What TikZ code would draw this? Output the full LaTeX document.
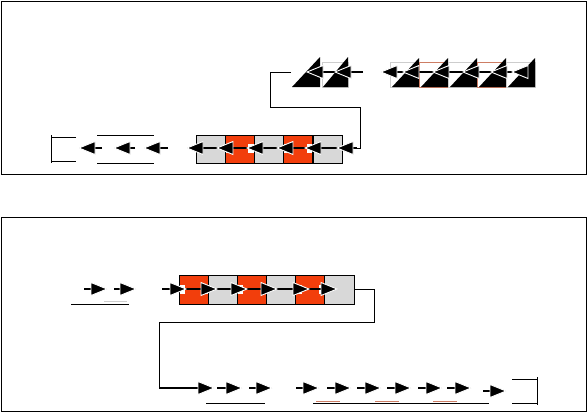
\documentclass[tikz,border=0pt]{standalone}
\usetikzlibrary{calc}
\definecolor{cellred}{RGB}{242,62,12}
\definecolor{cellgrey}{RGB}{216,216,216}
\definecolor{framegrey}{RGB}{205,205,205}
\definecolor{salmonline}{RGB}{205,125,100}
\tikzset{
  headstyle/.style={fill=black,draw=white,line width=0.9pt,line join=miter},
  lhead/.pic={\filldraw[headstyle] (0,0) -- (16,-6.5) -- (16,6.5) -- cycle;},
  rhead/.pic={\filldraw[headstyle] (0,0) -- (-16,-6.5) -- (-16,6.5) -- cycle;},
  mainline/.style={line width=1.1pt},
  thin/.style={line width=0.8pt},
  panel/.style={line width=1pt},
  greycell/.style={draw=black,fill=cellgrey,line width=0.7pt},
  whitecell/.style={line width=0.8pt},
}
% arrow pointing left: start x, tip x, y
\newcommand\LArrow[3]{\draw[mainline] (#1,#3) -- ({#2+8},#3); \pic at (#2,#3) {lhead};}
\newcommand\RArrow[4][1.1pt]{\draw[line width=#1] (#2,#4) -- ({#3-8},#4); \pic at (#3,#4) {rhead};}
\newcommand\RedCell[4]{% x0 y0 x1 y1
  \fill[cellred] (#1,#2) rectangle (#3,#4);
  \fill[white] (#1,{(#2+#4)/2-5}) rectangle ({#1+6},{(#2+#4)/2+4});
  \fill[white] ({#3-6},{(#2+#4)/2-5}) rectangle (#3,{(#2+#4)/2+4});
  \draw[black,line width=0.7pt] (#1,#2) rectangle (#3,#4);
}
\begin{document}
\begin{tikzpicture}[x=1pt,y=-1pt]
\useasboundingbox (0,0) rectangle (588,413);
% panels
\draw[panel] (1,1) rectangle (586.5,174);
\draw[panel] (1,217.5) rectangle (586.5,411.5);

% ================= top panel, upper row =================
\fill (292,87) -- (320,87) -- (320,57) -- cycle;
\draw[framegrey,whitecell] (322,62) rectangle (348,87);
\fill (323,87) -- (348,87) -- (348,57) -- cycle;
\draw[mainline] (363,72) -- (320,72);
\LArrow{355}{335}{72}
\LArrow{327}{307}{72}

% right group
\foreach \i/\c in {0/framegrey,1/salmonline,2/framegrey,3/salmonline,4/framegrey}{
  \pgfmathsetmacro\xl{390+29*\i}
  \pgfmathsetmacro\xr{\xl+29}
  \draw[\c,whitecell] (\xl,62) rectangle (\xr,87);
  \fill ({\xl+2},87) -- (\xr,87) -- (\xr,58) -- cycle;
}
\draw[mainline] (523,72) -- (395,72);
\foreach \t in {512,491,463,433,403,381}{
  \LArrow{\t+20}{\t}{72}
}

% connector top panel
\coordinate (ca) at (291,72);
\coordinate (cb) at (270,72);
\coordinate (cc) at (270,107);
\coordinate (cd) at (360,107);
\coordinate (ce) at (360,148);
\coordinate (cf) at (345,148);
\draw[line width=1pt] (ca) -- (cb) -- (cc) -- (cd) -- (ce) -- (cf);

% ================= top panel, lower row =================
\draw[thin] (76,137) -- (51,137) -- (51,161) -- (76,161);
\draw[thin] (51,135) -- (51,163);
\draw[thin] (97,135) -- (154,135);
\draw[thin] (97,163) -- (154,163);
\LArrow{102}{79}{148}
\LArrow{135}{114}{148}
\LArrow{168}{144}{148}

\draw[greycell] (196,135) rectangle (225.2,163);
\RedCell{225.2}{135}{254.4}{163}
\draw[greycell] (254.4,135) rectangle (283.6,163);
\RedCell{283.6}{135}{312.8}{163}
\draw[greycell] (312.8,135) rectangle (342,163);
\foreach \x in {225.2,254.4,283.6,312.8}{\draw[line width=1.4pt] (\x,135) -- (\x,163);}

\draw[mainline] (350,148) -- (195,148);
\foreach \t in {337,305,277,247,217,187}{
  \LArrow{\t+20}{\t}{148}
}

% ================= bottom panel, upper row =================
\RArrow{84}{107}{289}
\RArrow{114}{136}{289}
\draw[thin] (71,304) -- (129,304);
\draw[framegrey,thin] (104,301) -- (127,301);

\RedCell{179}{275}{208.2}{304}
\draw[greycell] (208.2,275) rectangle (237.3,304);
\RedCell{237.3}{275}{266.5}{304}
\draw[greycell] (266.5,275) rectangle (295.7,304);
\RedCell{295.7}{275}{324.8}{304}
\draw[greycell] (324.8,275) rectangle (354,304);

\draw[mainline] (162,289) -- (330,289);
\RArrow{162}{186}{289}
\foreach \t in {217,247,277,309,337}{
  \RArrow{\t-20}{\t}{289}
}

% connector bottom panel
\coordinate (da) at (354,289);
\coordinate (db) at (374,289);
\coordinate (dc) at (374,322);
\coordinate (dd) at (159,322);
\coordinate (de) at (159,388);
\coordinate (df) at (214,388);
\draw[line width=1pt] (da) -- (db) -- (dc) -- (dd) -- (de);
\draw[line width=1.6pt] (de) -- ($(df)+(-8,0)$);
\pic at (df) {rhead};

% ================= bottom panel, lower row =================
\RArrow{217}{242}{388}
\RArrow{249}{272}{388}
\draw[thin] (206,403) -- (265,403);

\RArrow[1.6pt]{296}{319}{388}
\RArrow{327}{351}{388}
\RArrow{357}{381}{388}
\RArrow{387}{411}{388}
\RArrow{418}{442}{388}
\RArrow{447}{471}{388}
\RArrow{483}{506}{391}
\draw[thin] (313,403) -- (489,403);
\draw[salmonline,thin] (316,401) -- (340,401);
\draw[salmonline,thin] (375,401) -- (399,401);
\draw[salmonline,thin] (433,401) -- (457,401);

\draw[thin] (512,379) -- (537,379) -- (537,403) -- (512,403);
\draw[thin] (537,377) -- (537,405);
\end{tikzpicture}
\end{document}
